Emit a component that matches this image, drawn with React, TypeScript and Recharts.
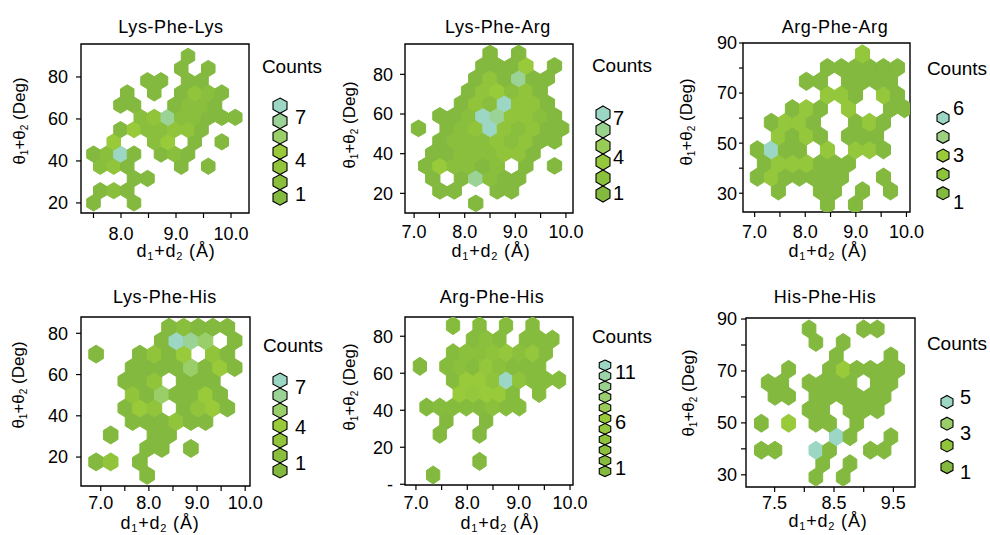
import React from 'react';
import { ScatterChart, Scatter, XAxis, YAxis, ReferenceArea } from 'recharts';

const FONT = '"Liberation Sans", Arial, Helvetica, sans-serif';

// hexbin counts, one array per row of bins. row 0 is the bottom row,
// odd rows sit half a bin to the right (matplotlib hexbin lattice)
const lysPheLysCounts = [
  [1, 0, 0, 1],
  [1, 2, 1],
  [0, 0, 0, 1, 1],
  [2, 3, 1, 0, 0, 0, 1, 0, 1],
  [1, 2, 7, 1, 0, 1, 2, 1],
  [0, 4, 0, 0, 2, 4, 0, 1, 0, 1],
  [0, 0, 1, 4, 2, 2, 3, 3, 1],
  [0, 0, 0, 2, 3, 6, 2, 2, 1, 1, 1],
  [0, 0, 1, 1, 0, 0, 1, 2, 2, 1],
  [0, 0, 1, 0, 1, 0, 1, 3, 2, 1],
  [0, 0, 0, 0, 1, 1, 0, 1, 1],
  [0, 0, 0, 0, 0, 0, 1, 0, 1],
  [0, 0, 0, 0, 0, 0, 0, 1],
];

const lysPheArgCounts = [
  [0, 0, 0, 0, 1],
  [0, 1, 1, 0, 0, 1, 1],
  [0, 1, 0, 1, 6, 2, 1, 1],
  [1, 4, 2, 2, 1, 2, 0, 1, 0, 1],
  [0, 1, 1, 2, 2, 2, 3, 3, 1],
  [0, 1, 2, 2, 2, 3, 2, 3, 1, 1],
  [1, 0, 1, 2, 3, 7, 3, 2, 3, 1, 1],
  [0, 1, 1, 2, 7, 6, 3, 3, 2, 1],
  [0, 0, 0, 1, 3, 2, 7, 3, 3, 1],
  [0, 0, 0, 1, 3, 4, 2, 3, 1],
  [0, 0, 0, 0, 1, 3, 1, 6, 1, 1],
  [0, 0, 0, 0, 1, 1, 1, 4, 0, 1],
  [0, 0, 0, 0, 0, 1, 0, 1],
];

const argPheArgCounts = [
  [0, 0, 0, 0, 0, 1, 0, 1],
  [0, 1, 0, 0, 1, 1, 0, 1, 0, 1],
  [1, 3, 1, 1, 1, 1, 1, 0, 0, 1],
  [1, 3, 3, 3, 1, 1, 1],
  [1, 6, 1, 1, 0, 3, 0, 3, 3, 1],
  [0, 3, 1, 3, 1, 0, 1, 1, 1],
  [0, 1, 3, 3, 1, 0, 0, 1, 3, 1],
  [0, 0, 1, 3, 1, 0, 3, 0, 0, 1, 1],
  [0, 0, 0, 0, 0, 3, 3, 1, 0, 3, 1],
  [0, 0, 0, 1, 1, 0, 1, 1, 1, 1],
  [0, 0, 0, 0, 0, 1, 1, 1, 1, 1, 1],
  [0, 0, 0, 0, 0, 0, 0, 3],
];

const lysPheHisCounts = [
  [0, 0, 0, 0, 1],
  [1, 3, 0, 1],
  [0, 0, 0, 0, 1, 1, 0, 1],
  [0, 1, 0, 0, 1, 1],
  [0, 0, 0, 1, 1, 1, 3, 1, 1],
  [0, 0, 1, 4, 3, 0, 1, 3, 4, 1],
  [0, 0, 0, 3, 1, 5, 1, 1, 4, 1],
  [0, 0, 1, 1, 3, 0, 1, 1, 1],
  [0, 0, 0, 1, 1, 1, 1, 5, 1, 4, 1],
  [1, 0, 0, 1, 3, 1, 4, 0, 3, 1],
  [0, 0, 0, 0, 0, 1, 7, 6, 5, 0, 1],
  [0, 0, 0, 0, 0, 1, 2, 1, 1, 1],
];

const argPheHisCounts = [
  [0, 0, 1],
  [0, 0, 0, 0, 0, 1],
  [],
  [0, 0, 1, 0, 0, 1],
  [0, 0, 0, 1, 0, 0, 1],
  [0, 1, 2, 2, 2, 2, 3, 2, 2],
  [0, 0, 0, 0, 6, 5, 6, 6, 2, 0, 2],
  [0, 0, 0, 2, 6, 6, 4, 11, 4, 2, 2, 2],
  [0, 1, 0, 2, 3, 2, 5, 3, 2, 2, 2],
  [0, 0, 0, 2, 3, 3, 4, 5, 3, 5, 2],
  [0, 0, 0, 0, 0, 2, 3, 2, 0, 2, 2, 2],
  [0, 0, 0, 2, 0, 2, 0, 2, 0, 2],
];

const hisPheHisCounts = [
  [0, 0, 0, 0, 1, 0, 1],
  [0, 0, 0, 0, 1, 0, 1],
  [1, 1, 0, 0, 5, 1, 0, 0, 1, 1],
  [0, 0, 0, 0, 0, 5, 1, 0, 0, 1],
  [1, 0, 3, 0, 1, 1, 0, 1],
  [0, 0, 0, 1, 1, 0, 1, 1, 1],
  [0, 1, 1, 0, 1, 1, 1, 1, 1, 1],
  [1, 1, 0, 1, 1, 1, 1, 0, 1, 1],
  [0, 0, 1, 0, 0, 1, 3, 1, 1, 1, 1],
  [0, 0, 0, 0, 0, 1, 0, 0, 0, 1],
  [0, 0, 0, 0, 1, 0, 1],
  [0, 0, 0, 1, 0, 0, 0, 1, 1],
];

// axis ticks and their texts
const xTicksFull = [7, 7.5, 8, 8.5, 9, 9.5, 10];
const xTextFull = ['7.0', '', '8.0', '', '9.0', '', '10.0'];
const xTicksLys = [7.5, 8, 8.5, 9, 9.5, 10];
const xTextLys = ['', '8.0', '', '9.0', '', '10.0'];
const xTicksHis = [7.5, 8, 8.5, 9, 9.5];
const xTextHis = ['7.5', '', '8.5', '', '9.5'];
const yTicks20 = [20, 40, 60, 80];
const yText20 = ['20', '40', '60', '80'];
const yTicks10 = [30, 40, 50, 60, 70, 80, 90];
const yText10 = ['30', '', '50', '', '70', '', '90'];
const yTicks0 = [0, 20, 40, 60, 80];
const yText0 = ['-', '20', '40', '60', '80'];

// colour bar labels
const legend7 = ['7', '4', '1'];
const legend6 = ['6', '3', '1'];
const legend11 = ['11', '6', '1'];
const legend5 = ['5', '3', '1'];

const RAMP: [number, number[]][] = [
  [0, [130, 185, 62]],
  [0.5, [152, 202, 58]],
  [1, [156, 214, 196]],
];

function rampColor(t: number) {
  const tt = Math.max(0, Math.min(1, t));
  for (let i = 1; i < RAMP.length; i++) {
    if (tt <= RAMP[i][0]) {
      const [t0, c0] = RAMP[i - 1];
      const [t1, c1] = RAMP[i];
      const f = (tt - t0) / (t1 - t0);
      const c = c0.map((v, j) => Math.round(v + (c1[j] - v) * f));
      return `rgb(${c[0]},${c[1]},${c[2]})`;
    }
  }
  return 'rgb(156,214,196)';
}

const countColor = (c: number, max: number) => rampColor(max > 1 ? (c - 1) / (max - 1) : 0);

interface Grid { x0: number; sx: number; y0: number; dy: number }

function binCells(counts: number[][], g: Grid) {
  const cells: { x: number; y: number; count: number }[] = [];
  counts.forEach((row, k) => {
    row.forEach((count, i) => {
      if (count > 0) cells.push({ x: g.x0 + (i + (k % 2) / 2) * g.sx, y: g.y0 + k * g.dy, count });
    });
  });
  return cells;
}

interface PanelSpec {
  title: string;
  counts: number[][];
  max: number;
  grid: Grid;
  box: [number, number, number, number];
  xDomain: [number, number];
  yDomain: [number, number];
  xTicks: number[];
  xText: string[];
  yTicks: number[];
  yText: string[];
  xTickMargin: number;
  yTickSize: number;
  yTickMargin: number;
  titleAt: [number, number];
  xLabelAt: [number, number];
  yLabelAt: [number, number];
  countsAt: [number, number];
  legend: { cx: number; y0: number; pitch: number; w: number; h: number; n: number; lx: number; ly: number[]; text: string[] };
}

const panels: PanelSpec[] = [
  {
    title: 'Lys-Phe-Lys', counts: lysPheLysCounts, max: 7,
    grid: { x0: 7.5, sx: 0.2455, y0: 20, dy: 5.82 },
    box: [81, 44, 168, 169], xDomain: [7.273, 10.327], yDomain: [15.2, 95.7],
    xTicks: xTicksLys, xText: xTextLys, yTicks: yTicks20, yText: yText20,
    xTickMargin: 9, yTickSize: 5, yTickMargin: 8,
    titleAt: [171, 33], xLabelAt: [176, 257], yLabelAt: [19, 121], countsAt: [292, 73],
    legend: { cx: 280, y0: 105.7, pitch: 15.3, w: 14, h: 15.3, n: 7, lx: 295, ly: [117, 160, 194], text: legend7 },
  },
  {
    title: 'Lys-Phe-Arg', counts: lysPheArgCounts, max: 7,
    grid: { x0: 7.086, sx: 0.283, y0: 14.96, dy: 6.3 },
    box: [405, 44, 168, 169], xDomain: [6.82, 10.14], yDomain: [10.1, 95.3],
    xTicks: xTicksFull, xText: xTextFull, yTicks: yTicks20, yText: yText20,
    xTickMargin: 7, yTickSize: 5, yTickMargin: 7,
    titleAt: [498, 33], xLabelAt: [491, 257], yLabelAt: [349, 125], countsAt: [622, 72],
    legend: { cx: 603, y0: 114, pitch: 16, w: 14, h: 16, n: 6, lx: 613, ly: [118, 157, 193], text: legend7 },
  },
  {
    title: 'Arg-Phe-Arg', counts: argPheArgCounts, max: 6,
    grid: { x0: 7.053, sx: 0.277, y0: 25.47, dy: 5.47 },
    box: [743, 43, 167, 169], xDomain: [6.77, 10.07], yDomain: [22.5, 90],
    xTicks: xTicksFull, xText: xTextFull, yTicks: yTicks10, yText: yText10,
    xTickMargin: 8, yTickSize: 4, yTickMargin: 2,
    titleAt: [835, 33], xLabelAt: [828, 257], yLabelAt: [686, 122], countsAt: [957, 75],
    legend: { cx: 943, y0: 118, pitch: 18.8, w: 12, h: 13, n: 5, lx: 953, ly: [108, 155, 202], text: legend6 },
  },
  {
    title: 'Lys-Phe-His', counts: lysPheHisCounts, max: 7,
    grid: { x0: 6.752, sx: 0.303, y0: 11.13, dy: 6.53 },
    box: [81, 317, 169, 169], xDomain: [6.59, 10.1], yDomain: [5.97, 87.9],
    xTicks: xTicksFull, xText: xTextFull, yTicks: yTicks20, yText: yText20,
    xTickMargin: 5, yTickSize: 5, yTickMargin: 8,
    titleAt: [165, 303], xLabelAt: [160, 529], yLabelAt: [18, 385], countsAt: [293, 352],
    legend: { cx: 280, y0: 380.5, pitch: 15, w: 14, h: 15, n: 7, lx: 295, ly: [387, 427, 463], text: legend7 },
  },
  {
    title: 'Arg-Phe-His', counts: argPheHisCounts, max: 11,
    grid: { x0: 6.819, sx: 0.258, y0: 5.02, dy: 7.34 },
    box: [405, 317, 168, 168], xDomain: [6.787, 10.058], yDomain: [-0.4, 90.4],
    xTicks: xTicksFull, xText: xTextFull, yTicks: yTicks0, yText: yText0,
    xTickMargin: 6, yTickSize: 5, yTickMargin: 7,
    titleAt: [492, 303], xLabelAt: [500, 529], yLabelAt: [349, 387], countsAt: [622, 343],
    legend: { cx: 605, y0: 365.3, pitch: 10.6, w: 11.5, h: 10.6, n: 11, lx: 615, ly: [372, 422, 468], text: legend11 },
  },
  {
    title: 'His-Phe-His', counts: hisPheHisCounts, max: 5,
    grid: { x0: 7.276, sx: 0.2297, y0: 29.1, dy: 5.19 },
    box: [746, 318, 169, 169], xDomain: [7.018, 9.864], yDomain: [25.3, 90.4],
    xTicks: xTicksHis, xText: xTextHis, yTicks: yTicks10, yText: yText10,
    xTickMargin: 4, yTickSize: 5, yTickMargin: 4,
    titleAt: [825, 303], xLabelAt: [828, 527], yLabelAt: [688, 393], countsAt: [957, 350],
    legend: { cx: 947, y0: 402, pitch: 21.7, w: 12, h: 13, n: 4, lx: 960, ly: [397, 433, 472], text: legend5 },
  },
];

const YW = 70;
const MT = 14;
const MR = 30;
const XH = 40;

function HexPanel({ spec }: { spec: PanelSpec }) {
  const [left, top, w, h] = spec.box;
  const pxX = w / (spec.xDomain[1] - spec.xDomain[0]);
  const pxY = h / (spec.yDomain[1] - spec.yDomain[0]);
  const hw = (spec.grid.sx * pxX) / 2;
  const hr = spec.grid.dy * pxY;
  const data = binCells(spec.counts, spec.grid);

  const hexShape = (p: any) => {
    const { cx, cy, payload } = p;
    const pts = [
      [0, (-2 * hr) / 3], [hw, -hr / 3], [hw, hr / 3],
      [0, (2 * hr) / 3], [-hw, hr / 3], [-hw, -hr / 3],
    ].map(([dx, dy]) => `${cx + dx},${cy + dy}`).join(' ');
    const fill = countColor(payload.count, spec.max);
    return <polygon points={pts} fill={fill} stroke={fill} strokeWidth={1} strokeLinejoin="round" />;
  };

  const tickStyle = { fill: '#000', fontSize: 18, fontFamily: FONT };

  return (
    <div style={{ position: 'absolute', left: left - YW, top: top - MT }}>
      <ScatterChart width={YW + w + MR} height={MT + h + XH} margin={{ top: MT, right: MR, bottom: 0, left: 0 }}>
        <XAxis
          type="number"
          dataKey="x"
          domain={spec.xDomain}
          ticks={spec.xTicks}
          interval={0}
          allowDataOverflow
          height={XH}
          axisLine={false}
          tickLine={{ stroke: '#000', strokeWidth: 1.2 }}
          tickSize={5}
          tickMargin={spec.xTickMargin}
          tick={tickStyle}
          tickFormatter={(_v: number, i: number) => spec.xText[i]}
        />
        <YAxis
          type="number"
          dataKey="y"
          domain={spec.yDomain}
          ticks={spec.yTicks}
          interval={0}
          allowDataOverflow
          width={YW}
          axisLine={false}
          tickLine={{ stroke: '#000', strokeWidth: 1.2 }}
          tickSize={spec.yTickSize}
          tickMargin={spec.yTickMargin}
          tick={tickStyle}
          tickFormatter={(_v: number, i: number) => spec.yText[i]}
        />
        <Scatter data={data} shape={hexShape} isAnimationActive={false} />
        <ReferenceArea
          x1={spec.xDomain[0]}
          x2={spec.xDomain[1]}
          y1={spec.yDomain[0]}
          y2={spec.yDomain[1]}
          fill="none"
          fillOpacity={0}
          stroke="#000"
          strokeWidth={1.4}
          ifOverflow="visible"
        />
      </ScatterChart>
    </div>
  );
}

function LegendHexes({ spec }: { spec: PanelSpec }) {
  const lg = spec.legend;
  const hexes = [];
  for (let j = 0; j < lg.n; j++) {
    const cy = lg.y0 + j * lg.pitch;
    const t = lg.n > 1 ? (lg.n - 1 - j) / (lg.n - 1) : 0;
    const pts = [
      [0, -lg.h / 2], [lg.w / 2, -lg.h / 4], [lg.w / 2, lg.h / 4],
      [0, lg.h / 2], [-lg.w / 2, lg.h / 4], [-lg.w / 2, -lg.h / 4],
    ].map(([dx, dy]) => `${lg.cx + dx},${cy + dy}`).join(' ');
    hexes.push(<polygon key={j} points={pts} fill={rampColor(t)} stroke="#000" strokeWidth={1.1} />);
  }
  return (
    <g>
      {hexes}
      {lg.text.map((s, i) => (
        <text key={s} x={lg.lx} y={lg.ly[i] + 7} fontSize={20}>{s}</text>
      ))}
    </g>
  );
}

function PanelText({ spec }: { spec: PanelSpec }) {
  const [tx, ty] = spec.titleAt;
  const [xx, xy] = spec.xLabelAt;
  const [yx, yy] = spec.yLabelAt;
  const [cx, cy] = spec.countsAt;
  return (
    <g>
      <text x={tx} y={ty} textAnchor="middle" fontSize={18} letterSpacing={0.6}>{spec.title}</text>
      <text x={xx} y={xy} textAnchor="middle" fontSize={18} letterSpacing={0.8}>
        d<tspan fontSize={11} dy={3}>1</tspan>
        <tspan dy={-3}>+d</tspan>
        <tspan fontSize={11} dy={3}>2</tspan>
        <tspan dy={-3}>{'\u00a0(\u00c5)'}</tspan>
      </text>
      <text transform={`translate(${yx + 6},${yy}) rotate(-90)`} textAnchor="middle" fontSize={17}>
        {'\u03b8'}<tspan fontSize={10} dy={3}>1</tspan>
        <tspan dy={-3}>{'+\u03b8'}</tspan>
        <tspan fontSize={10} dy={3}>2</tspan>
        <tspan dy={-3}>{'\u00a0(Deg)'}</tspan>
      </text>
      <text x={cx} y={cy} textAnchor="middle" fontSize={19}>Counts</text>
      <LegendHexes spec={spec} />
    </g>
  );
}

export default function App() {
  return (
    <div style={{ position: 'absolute', left: 0, top: 0, width: 990, height: 535, background: '#fff', fontFamily: FONT, overflow: 'hidden' }}>
      {panels.map((p) => (
        <HexPanel key={p.title} spec={p} />
      ))}
      <svg width={990} height={535} style={{ position: 'absolute', left: 0, top: 0, pointerEvents: 'none' }} fontFamily={FONT} fill="#000">
        {panels.map((p) => (
          <PanelText key={p.title} spec={p} />
        ))}
      </svg>
    </div>
  );
}
